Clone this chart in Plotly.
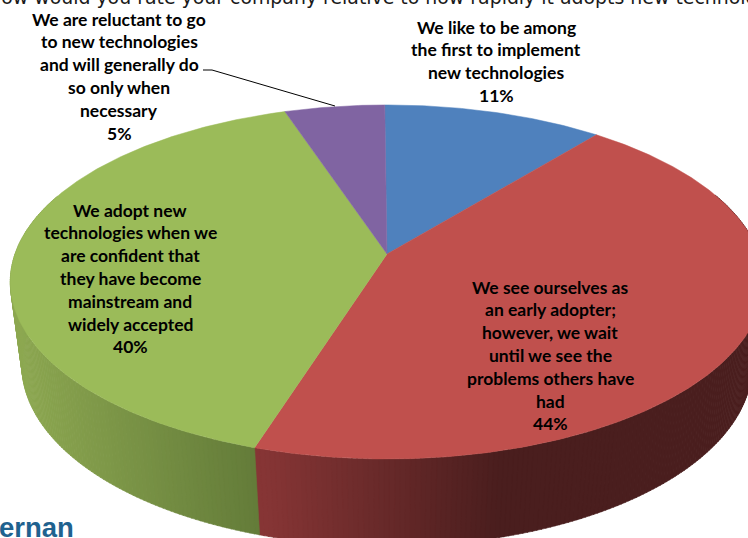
import math
import plotly.graph_objects as go

# Survey shares, in drawing order clockwise from twelve o'clock
shares = [11, 44, 40, 5]
label_lines = [
    ["We like to be among", "the first to implement", "new technologies", "11%"],
    ["We see ourselves as", "an early adopter;", "however, we wait", "until we see the",
     "problems others have", "had", "44%"],
    ["We adopt new", "technologies when we", "are confident that", "they have become",
     "mainstream and", "widely accepted", "40%"],
    ["We are reluctant to go", "to new technologies", "and will generally do",
     "so only when", "necessary", "5%"],
]
label_x = [496, 550, 130, 119]
label_top = [27, 287, 210, 19]
line_step = 22.8

top_colors = ["#4F81BD", "#C0504D", "#9BBB59", "#8064A2"]
# Side wall shade at the left and right ends of the x range
wall_left = ["#3B618E", "#863535", "#8DA851", "#5F4A79"]
wall_right = ["#2A4564", "#4A1E1E", "#627A38", "#433455"]
wall_span = [(387, 748), (264, 500), (10, 264), (280, 387)]

title = "How would you rate your company relative to how rapidly it adopts new technologies?"
logo_text = "ernan"

# Perspective projection of the pie's top and bottom rims
CX = 387
TOP = dict(a=372, b=172.6, k=0.158, cy=254)
BOTTOM = dict(a=361, b=177, k=0.15, cy=338)
FIRST_SLICE_ANGLE = math.radians(-0.4)
FONT = "Lato, Carlito, sans-serif"


def project(theta, radius, rim):
    u = radius * math.sin(theta)
    v = radius * math.cos(theta)
    d = 1 + rim["k"] * v
    return CX + rim["a"] * u / d, rim["cy"] - rim["b"] * v / d


def mix(c1, c2, t):
    t = max(0.0, min(1.0, t))
    a = [int(c1[i:i + 2], 16) for i in (1, 3, 5)]
    b = [int(c2[i:i + 2], 16) for i in (1, 3, 5)]
    return "#%02x%02x%02x" % tuple(round(p + (q - p) * t) for p, q in zip(a, b))


fig = go.Figure()
total = sum(shares)
edges = [FIRST_SLICE_ANGLE]
for s in shares:
    edges.append(edges[-1] + 2 * math.pi * s / total)

# Walls first, as thin shaded strips along the front of the rim
for i in range(len(shares)):
    start, end = edges[i], edges[i + 1]
    n = max(2, int((end - start) / 0.012))
    for j in range(n):
        t0 = start + (end - start) * j / n
        t1 = start + (end - start) * (j + 1) / n + 0.002
        if math.cos(t0) > 0.35 and math.cos(t1) > 0.35:
            continue
        p = [project(t0, 1, TOP), project(t1, 1, TOP), project(t1, 1, BOTTOM), project(t0, 1, BOTTOM)]
        mid = (p[0][0] + p[1][0]) / 2
        lo, hi = wall_span[i]
        color = mix(wall_left[i], wall_right[i], (mid - lo) / (hi - lo))
        fig.add_trace(go.Scatter(
            x=[q[0] for q in p] + [p[0][0]], y=[q[1] for q in p] + [p[0][1]],
            mode="lines", fill="toself", fillcolor=color,
            line=dict(color=color, width=0.6), hoverinfo="skip", showlegend=False,
        ))

# Top faces
for i in range(len(shares)):
    start, end = edges[i], edges[i + 1]
    n = max(4, int((end - start) / 0.01))
    pts = [project(start + (end - start) * j / n, 1, TOP) for j in range(n + 1)]
    centre = project(0, 0, TOP)
    xs = [centre[0]] + [q[0] for q in pts] + [centre[0]]
    ys = [centre[1]] + [q[1] for q in pts] + [centre[1]]
    fig.add_trace(go.Scatter(
        x=xs, y=ys, mode="lines", fill="toself", fillcolor=top_colors[i],
        line=dict(color=top_colors[i], width=0.5), hoverinfo="skip", showlegend=False,
    ))

# Leader line for the smallest slice
fig.add_trace(go.Scatter(
    x=[203, 212, 335], y=[70, 70, 106], mode="lines",
    line=dict(color="#000000", width=1), hoverinfo="skip", showlegend=False,
))

# Slice labels, one annotation per line for even leading
for lines, x, y0 in zip(label_lines, label_x, label_top):
    for n, line in enumerate(lines):
        fig.add_annotation(
            x=x, y=y0 + n * line_step, text=line, showarrow=False,
            xanchor="center", yanchor="middle",
            font=dict(family=FONT, size=17.5, color="#000000", weight="bold"),
        )

fig.add_annotation(
    x=396, y=10, text=title, showarrow=False, xanchor="center", yanchor="bottom",
    font=dict(family="DejaVu Sans", size=18.9, color="#1a1a1a"),
)
fig.add_annotation(
    x=0, y=527.5, xshift=-3, text=logo_text, showarrow=False, xanchor="left", yanchor="middle",
    font=dict(family="Liberation Sans", size=27.5, color="#1F628F", weight="bold"),
)

fig.update_layout(
    width=748, height=538, margin=dict(l=0, r=0, t=0, b=0),
    paper_bgcolor="#FFFFFF", plot_bgcolor="#FFFFFF", showlegend=False,
    xaxis=dict(range=[0, 748], visible=False, fixedrange=True),
    yaxis=dict(range=[538, 0], visible=False, fixedrange=True),
)
fig.write_html("out.html", config=dict(displayModeBar=False))
